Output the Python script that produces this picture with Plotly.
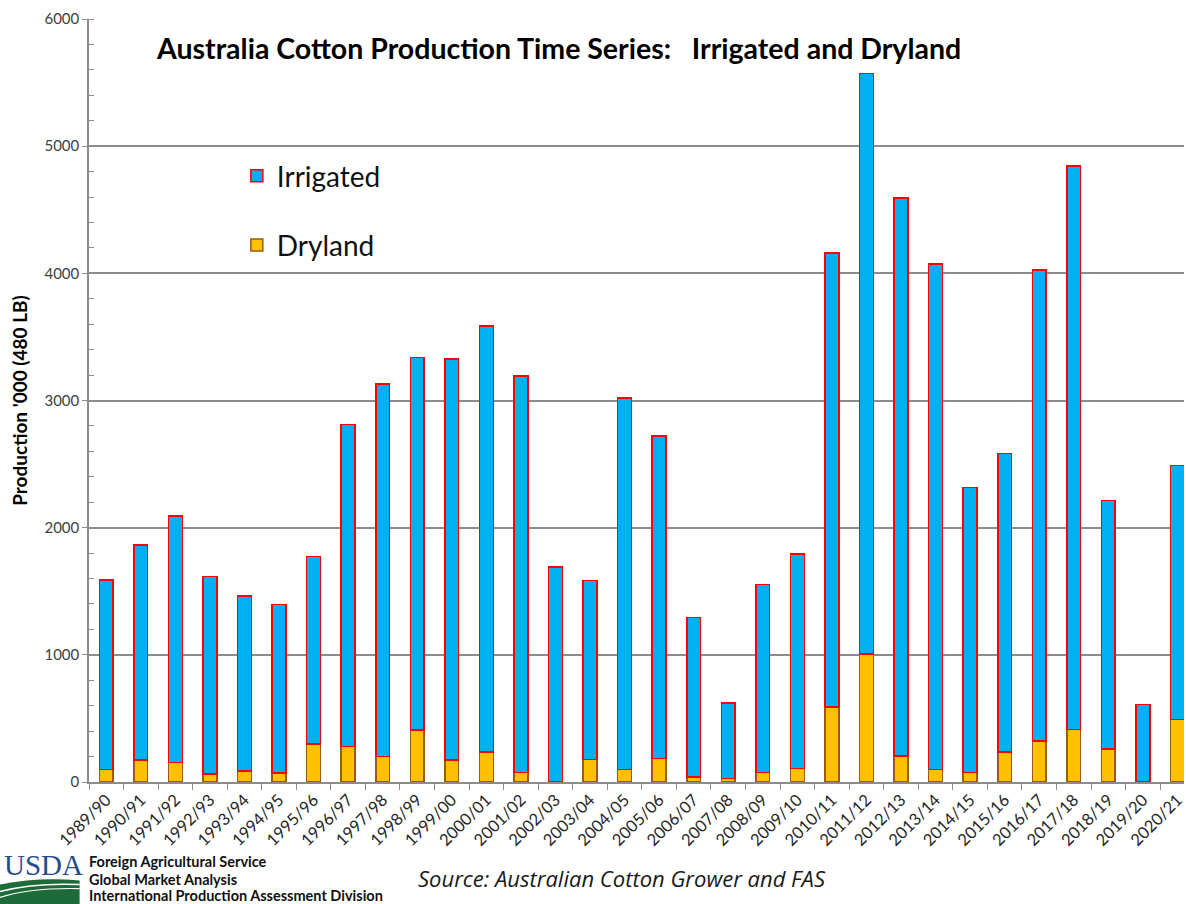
import plotly.graph_objects as go

seasons = ["1989/90", "1990/91", "1991/92", "1992/93", "1993/94", "1994/95", "1995/96",
           "1996/97", "1997/98", "1998/99", "1999/00", "2000/01", "2001/02", "2002/03",
           "2003/04", "2004/05", "2005/06", "2006/07", "2007/08", "2008/09", "2009/10",
           "2010/11", "2011/12", "2012/13", "2013/14", "2014/15", "2015/16", "2016/17",
           "2017/18", "2018/19", "2019/20", "2020/21"]

total_production = [1590, 1865, 2090, 1617, 1462, 1397, 1775, 2813, 3130, 3340, 3325, 3584,
                    3191, 1690, 1583, 3018, 2719, 1292, 623, 1552, 1792, 4159, 5570, 4594,
                    4072, 2317, 2584, 4027, 4843, 2215, 610, 2488]

dryland = [98, 172, 153, 62, 85, 70, 300, 279, 201, 408, 172, 235, 75, 5, 177, 98, 185,
           41, 28, 75, 106, 589, 1006, 203, 98, 75, 235, 321, 411, 261, 0, 492]

irrigated = [t - d for t, d in zip(total_production, dryland)]

LBL = "Lato, 'Open Sans', sans-serif"

fig = go.Figure()
fig.add_trace(go.Bar(
    x=seasons, y=dryland, name="Dryland", legendgroup="d", legendrank=2,
    marker=dict(color="#FFC000", line=dict(color="#9C5A12", width=1.5)),
))
fig.add_trace(go.Bar(
    x=seasons, y=irrigated, name="Irrigated", legendgroup="i", legendrank=1,
    marker=dict(color="#00B0F0", line=dict(color="#FF0000", width=1.5)),
))

# plot area: x 89.4..1186 px, y 19..781.5 px
def py(ypix):
    return (781.5 - ypix) / 762.5

def px(xpix):
    return (xpix - 89.4) / 1096.6

fig.update_layout(
    width=1186, height=904,
    barmode="stack", bargap=0.6,
    paper_bgcolor="white", plot_bgcolor="white",
    margin=dict(l=89, r=0, t=19, b=122, pad=0),
    font=dict(family=LBL, color="#404040"),
    showlegend=True,
    legend=dict(
        x=0.135, y=0.827, xanchor="left", yanchor="top",
        traceorder="grouped", tracegroupgap=30,
        font=dict(size=28, color="#111111", family=LBL),
        bgcolor="rgba(0,0,0,0)",
    ),
    xaxis=dict(
        type="category", range=[-0.5, 31.19],
        tickson="boundaries", ticks="outside", ticklen=6, tickcolor="#8c8c8c",
        tickangle=-45, tickfont=dict(size=16.5, color="#262626", family=LBL),
        showline=True, linecolor="#8c8c8c", linewidth=1.5,
        showgrid=False, zeroline=False,
    ),
    yaxis=dict(
        range=[0, 6000], dtick=1000, tickformat="d",
        ticks="outside", ticklen=5, tickcolor="#8c8c8c",
        minor=dict(dtick=200, ticks="inside", ticklen=5, tickcolor="#8c8c8c", showgrid=False),
        showline=True, linecolor="#8c8c8c", linewidth=1.5,
        showgrid=True, gridcolor="#8c8c8c", gridwidth=1.5,
        zeroline=False,
        tickfont=dict(size=15, color="#404040", family=LBL),
        title=dict(text="<b>Production '000 (480 LB)</b>", standoff=12,
                   font=dict(size=19, color="#000000", family=LBL)),
    ),
)

annotations = [
    dict(text="<b>Australia Cotton Production Time Series:   Irrigated and Dryland</b>",
         xref="paper", yref="paper", x=px(560), y=py(48), xanchor="center", yanchor="middle",
         showarrow=False, font=dict(size=28.5, color="#000000", family=LBL)),
    dict(text="<i>Source: Australian Cotton Grower and FAS</i>",
         xref="paper", yref="paper", x=px(623), y=py(877), xanchor="center", yanchor="middle",
         showarrow=False, font=dict(size=22, color="#1a1a1a", family="'Open Sans', sans-serif")),
    dict(text="<b>Foreign Agricultural Service</b>",
         xref="paper", yref="paper", x=px(87), y=py(861), xanchor="left", yanchor="middle",
         showarrow=False, font=dict(size=14.5, color="#111111", family=LBL)),
    dict(text="<b>Global Market Analysis</b>",
         xref="paper", yref="paper", x=px(87), y=py(879), xanchor="left", yanchor="middle",
         showarrow=False, font=dict(size=14.5, color="#111111", family=LBL)),
    dict(text="<b>International Production Assessment Division</b>",
         xref="paper", yref="paper", x=px(87), y=py(895), xanchor="left", yanchor="middle",
         showarrow=False, font=dict(size=14.5, color="#111111", family=LBL)),
    dict(text="USDA", xref="paper", yref="paper", x=px(2), y=py(864),
         xanchor="left", yanchor="middle", showarrow=False,
         font=dict(size=29, color="#1F4E8C", family="'Liberation Serif', serif")),
]
fig.update_layout(annotations=annotations)

shapes = [
    dict(type="path", xref="paper", yref="paper",
         path=(f"M {px(0)} {py(904)} L {px(0)} {py(884)} "
               f"Q {px(40)} {py(876)} {px(80)} {py(880)} L {px(80)} {py(904)} Z"),
         fillcolor="#1E6B3A", line=dict(width=0), layer="above"),
    dict(type="path", xref="paper", yref="paper",
         path=f"M {px(0)} {py(891)} Q {px(35)} {py(882)} {px(80)} {py(884)}",
         line=dict(color="white", width=1.5), layer="above"),
    dict(type="path", xref="paper", yref="paper",
         path=f"M {px(0)} {py(897)} Q {px(30)} {py(887)} {px(80)} {py(888)}",
         line=dict(color="white", width=1.2), layer="above"),
]
fig.update_layout(shapes=shapes)

fig.write_html("out.html", config={"displayModeBar": False},
               post_script="document.body.style.margin='0px';document.body.style.overflow='hidden';")
